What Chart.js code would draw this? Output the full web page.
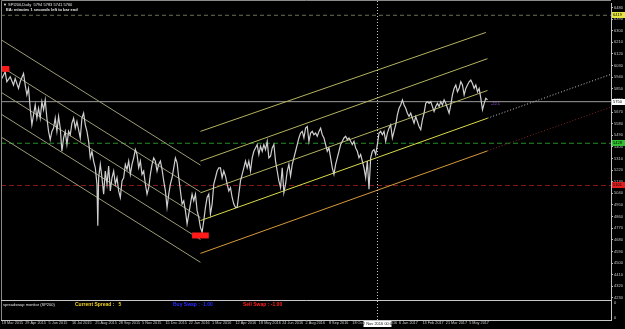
<!DOCTYPE html>
<html><head><meta charset="utf-8">
<script src="https://cdn.jsdelivr.net/npm/chart.js@4.4.0/dist/chart.umd.min.js"></script>
<style>html,body{margin:0;padding:0;background:#000;overflow:hidden}canvas{display:block}</style>
</head><body>
<canvas id="c" width="625" height="329"></canvas>
<script>
// ---- data (bar number, close) ----
const bars = [0,4,6,10,14,16,20,22,26,28,30,32,34,36,38,40,42,44,46,48,50,52,54,56,58,60,62,64,66,68,70,72,74,76,78,80,82,84,86,88,90,94,96,98,100,102,104,106,108,110,112,114,115,116,118,120,122,124,126,128,130,132,134,136,138,140,142,144,146,148,150,152,154,156,158,160,162,164,166,168,170,172,174,176,178,180,182,184,186,188,190,192,194,196,198,200,202,204,206,208,210,212,214,216,218,220,222,224,226,228,230,232,234,236,238,240,242,244,246,248,250,252,254,256,258,260,262,264,266,268,270,272,274,276,278,280,282,284,286,288,290,292,294,296,298,300,302,304,306,308,310,312,314,316,318,320,322,324,326,328,330,332,334,336,338,340,342,344,346,348,350,352,354,356,358,360,362,364,366,368,370,372,374,376,378,380,382,384,386,388,390,392,394,396,398,400,402,404,406,408,410,412,414,416,418,420,422,424,426,428,430,432,434,436,438,440,442,444,446,448,450,452,454,456,458,460,462,464,466,468,470,472,474,476,478,480,482,484,486,488,490,492,494,496,498,500,502,504,506,508,510,512,514,516,518,520,522,524,526,528,530,532,534,536,538,540,542,544,546,548,550,552,554,556,558,560,562,564,566,568,570,572,574,576,578,580,582];
const closes = [5929,5981,5904,5942,5879,5929,5853,5904,5968,5879,5802,5853,5699,5571,5648,5725,5622,5699,5622,5750,5687,5764,5622,5520,5456,5520,5545,5622,5520,5635,5545,5366,5469,5520,5418,5520,5494,5584,5622,5545,5597,5469,5622,5661,5571,5520,5443,5315,5366,5290,5238,5111,4790,5161,5264,5161,5034,5213,5111,5251,5059,5161,5213,5111,5161,5059,5008,5136,5161,5264,5226,5290,5187,5264,5315,5379,5341,5238,5290,5187,5213,5111,5034,5085,5187,5264,5315,5290,5213,5264,5290,5226,5136,5059,4931,5034,5111,5161,5238,5315,5277,5161,5059,4957,4982,4906,4804,4880,4957,5034,4982,5034,4906,4854,4777,4739,4829,4931,5008,5034,4880,4957,5111,5161,5213,5238,5238,5161,5213,5174,5111,5059,5085,5008,4957,4931,4931,5034,5136,5187,5238,5290,5238,5290,5213,5315,5366,5392,5418,5341,5405,5366,5418,5379,5443,5315,5328,5392,5418,5290,5213,5136,5085,5238,5046,5111,5213,5264,5174,5264,5315,5366,5418,5469,5507,5520,5469,5545,5558,5443,5507,5520,5494,5507,5482,5520,5545,5494,5469,5418,5366,5392,5315,5238,5187,5264,5315,5366,5418,5443,5469,5482,5456,5469,5443,5418,5443,5392,5366,5315,5341,5290,5238,5161,5290,5072,5315,5366,5379,5341,5418,5507,5520,5494,5520,5443,5507,5545,5571,5469,5520,5571,5648,5699,5725,5764,5725,5699,5661,5635,5661,5622,5584,5635,5597,5558,5533,5610,5661,5737,5750,5737,5750,5712,5674,5712,5737,5712,5750,5725,5764,5737,5699,5661,5725,5802,5853,5879,5827,5853,5904,5879,5802,5853,5879,5904,5917,5891,5853,5879,5827,5853,5776,5687,5737,5776,5764];

// tick labels
const dateTickBars = [0,28,56,84,112,140,168,196,224,252,280,308,336,364,392,420,448,476,504,532,560];
const dateLabels = ["18 Mar 2015","29 Apr 2015","5 Jun 2015","16 Jul 2015","25 Aug 2015","28 Sep 2015","5 Nov 2015","15 Dec 2015","22 Jan 2016","1 Mar 2016","12 Apr 2016","18 May 2016","24 Jun 2016","2 Aug 2016","8 Sep 2016","18 Oct 2016","25 Nov 2016","6 Jan 2017","13 Feb 2017","21 Mar 2017","5 May 2017"];
const priceTicks = [4230,4320,4410,4500,4590,4680,4770,4860,4950,5040,5130,5220,5310,5400,5490,5580,5670,5760,5850,5940,6030,6120,6210,6300,6390,6480];

// channel lines: [startBar, startPrice, endBar, endPrice]
const downChannel = [
  [-1,6230,238,5259],
  [-1,6022,238,5051],
  [-1,5823,238,4852],
  [-1,5654,238,4683],
  [-1,5477,238,4506]
];
const upChannel = [
  [238,5520,580,6286],
  [238,5290,582,6083],
  [238,5044,582,5837]
];
const supportLine = [238,4829,582,5622];   // yellow
const supportExt  = [582,5622,730,5962];   // dotted
const lowerLine   = [238,4575,582,5369];   // orange
const lowerExt    = [582,5369,730,5708];   // dotted dark red

// horizontal levels
const levelValues = [6419,5750,5428,5101];
const levelNames  = ["top","price","green","red"];
const crossBar = 450;
const highBox = [0,9,6026,5981];
const lowBox  = [228,248,4737,4691];

// ---- build ----
const X_MIN=-1, X_MAX=730;
function seg(s,color,dash,w){return {data:[{x:s[0],y:s[1]},{x:s[2],y:s[3]}],borderColor:color,borderWidth:w||1,borderDash:dash||[],pointRadius:0,showLine:true,fill:false,tension:0};}
function hline(v,color,dash){return {data:[{x:X_MIN,y:v},{x:X_MAX,y:v}],borderColor:color,borderWidth:1,borderDash:dash||[],pointRadius:0,showLine:true,fill:false};}

const datasets = [];
datasets.push({data:bars.map((b,i)=>({x:b,y:closes[i]})),borderColor:'#cfcfcf',borderWidth:1.2,pointRadius:0,showLine:true,fill:false,tension:0});
downChannel.forEach(s=>datasets.push(seg(s,'#9c9c78')));
upChannel.forEach(s=>datasets.push(seg(s,'#b4b460')));
datasets.push(seg(supportLine,'#dcdc48'));
datasets.push(seg(supportExt,'#c8c8b8',[1,2]));
datasets.push(seg(lowerLine,'#d89a3c'));
datasets.push(seg(lowerExt,'#7a2626',[1,2]));
const levelStyles = {top:['#6e6e52',[4,3]],price:['#9c9c9c',[]],green:['#2a8a2a',[5,3]],red:['#861a1a',[5,3]]};
levelValues.forEach((v,i)=>{const st=levelStyles[levelNames[i]];datasets.push(hline(v,st[0],st[1]));});

const labelFill = {top:'#e6e640',price:'#ffffff',green:'#30c030',red:'#e02020'};

const overlay = {
  id:'overlay',
  afterDatasetsDraw(chart){
    const {ctx,scales:{x,y}} = chart;
    ctx.save();
    ctx.fillStyle='#ff1a1a';
    [highBox,lowBox].forEach(b=>{
      const x0=x.getPixelForValue(b[0]),x1=x.getPixelForValue(b[1]);
      const y0=y.getPixelForValue(b[2]),y1=y.getPixelForValue(b[3]);
      ctx.fillRect(x0,y0,x1-x0,y1-y0);
    });
    ctx.fillStyle='#9b4fd8';
    ctx.font='4px "Liberation Sans"';
    ctx.textBaseline='middle';
    ctx.fillText('-22.1',x.getPixelForValue(586),y.getPixelForValue(5735));
    ctx.restore();
  },
  afterDraw(chart){
    const {ctx,scales:{x,y},chartArea:a} = chart;
    ctx.save();
    ctx.lineWidth=1;
    // frame
    ctx.strokeStyle='#8a8a8a';
    ctx.beginPath();
    ctx.moveTo(1.5,321);ctx.lineTo(1.5,0.5);ctx.lineTo(a.right,0.5);
    ctx.stroke();
    // indicator sub window
    ctx.strokeStyle='#c8c8c8';
    ctx.beginPath();
    ctx.moveTo(1,300.5);ctx.lineTo(a.right+0.5,300.5);
    ctx.moveTo(1,320.5);ctx.lineTo(a.right+0.5,320.5);
    ctx.moveTo(a.right+0.5,300);ctx.lineTo(a.right+0.5,321);
    ctx.stroke();
    ctx.textBaseline='middle';
    ctx.font='4px "Liberation Sans"';
    ctx.fillStyle='#e0e0e0';
    ctx.fillText('spreadswap monitor (SP200)',3,304.5);
    ctx.font='bold 5px "Liberation Sans"';
    ctx.fillStyle='#f0d020';
    ctx.fillText('Current Spread :   5',75,305);
    ctx.fillStyle='#2a2aff';
    ctx.fillText('Buy Swap : -1.00',173,305);
    ctx.fillStyle='#ff2020';
    ctx.fillText('Sell Swap : -1.00',243,305);
    ctx.font='4px "Liberation Sans"';
    ctx.fillStyle='#d0d0d0';
    ctx.fillText('0',614,303);
    ctx.fillText('0',614,318);
    // crosshair
    const cx=Math.round(x.getPixelForValue(crossBar))+0.5;
    ctx.strokeStyle='#c8c8c8';
    ctx.setLineDash([1,2]);
    ctx.beginPath();ctx.moveTo(cx,1);ctx.lineTo(cx,321);ctx.stroke();
    ctx.setLineDash([]);
    ctx.fillStyle='#ffffff';
    ctx.fillRect(cx-14,321,28,6);
    ctx.fillStyle='#202020';
    ctx.font='4px "Liberation Sans"';
    ctx.textAlign='center';
    ctx.fillText('22 Nov 2016 00:00',cx,324.2);
    // level labels on the price axis
    levelValues.forEach((v,i)=>{
      const py=Math.round(y.getPixelForValue(v));
      ctx.fillStyle=labelFill[levelNames[i]];
      ctx.fillRect(a.right+1,py-3,13,6);
      ctx.fillStyle='#000';
      ctx.font='4px "Liberation Sans"';
      ctx.textAlign='left';
      ctx.fillText(String(v),a.right+2,py+0.3);
    });
    // header
    ctx.textAlign='left';
    ctx.fillStyle='#e8e8e8';
    ctx.font='4px "Liberation Sans"';
    ctx.fillText('\u25BC SPI200,Daily  5794 5783 5741 5760',3,4.5);
    ctx.font='bold 4px "Liberation Sans"';
    ctx.fillText('EA: minutes 1 seconds left to bar end',6,9.5);
    ctx.restore();
  }
};

new Chart(document.getElementById('c'),{
  type:'scatter',
  data:{datasets},
  options:{
    responsive:false,animation:false,devicePixelRatio:1,
    layout:{padding:{top:1,left:1,right:0,bottom:0}},
    plugins:{legend:{display:false},tooltip:{enabled:false}},
    scales:{
      x:{type:'linear',min:X_MIN,max:X_MAX,position:'bottom',
        afterFit(s){s.height=30;s.paddingLeft=0;s.paddingRight=0;},
        afterBuildTicks(s){s.ticks=dateTickBars.map(v=>({value:v}));},
        ticks:{autoSkip:false,maxRotation:0,minRotation:0,padding:0,align:'start',color:'#c8c8c8',
          font:{family:'Liberation Sans',size:3.8},callback:(v,i)=>dateLabels[i]},
        grid:{display:true,drawOnChartArea:false,drawTicks:true,tickLength:22,color:'rgba(0,0,0,0)'},
        border:{display:false}},
      y:{type:'linear',position:'right',min:4222,max:6511,
        afterFit(s){s.width=14;},
        afterBuildTicks(s){s.ticks=priceTicks.map(v=>({value:v}));},
        ticks:{autoSkip:false,padding:1,color:'#c8c8c8',font:{family:'Liberation Sans',size:4},callback:v=>String(v)},
        grid:{drawOnChartArea:false,drawTicks:true,tickLength:2,color:'#c0c0c0'},
        border:{display:true,color:'#c0c0c0'}}
    }
  },
  plugins:[overlay]
});
</script>
</body></html>
